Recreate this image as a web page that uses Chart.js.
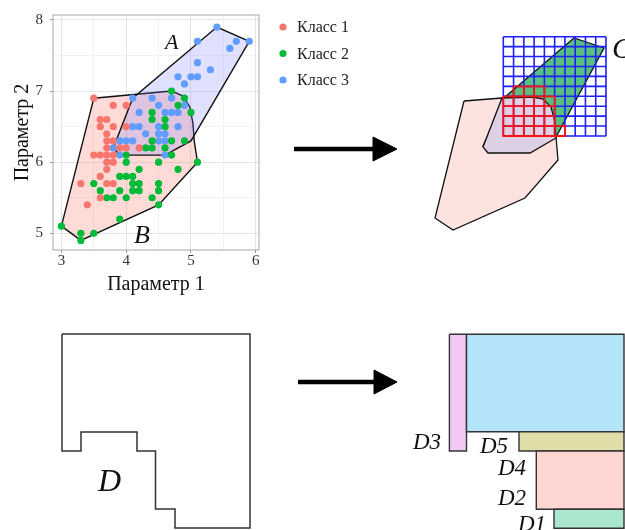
<!DOCTYPE html>
<html>
<head>
<meta charset="utf-8">
<script src="https://cdn.jsdelivr.net/npm/chart.js@4.4.1/dist/chart.umd.min.js"></script>
<style>
body { margin: 0; background: #fff; overflow: hidden; width: 625px; height: 530px; position: relative; }
canvas { position: absolute; left: 0; top: 0; }
#overlay { pointer-events: none; }
</style>
</head>
<body>
<canvas id="scatter" width="265" height="300"></canvas>
<canvas id="overlay" width="625" height="530"></canvas>
<script>
// scatter data (Параметр 1, Параметр 2)
const classNames = ['Класс 1', 'Класс 2', 'Класс 3'];
const classColors = ['#F8766D', '#00BA38', '#619CFF'];

const class1 = [[3.5,6.9],[3.8,6.8],[4.0,6.8],[3.6,6.6],[3.7,6.6],[3.6,6.5],[3.8,6.5],[4.0,6.5],[3.7,6.4],
  [3.7,6.3],[3.8,6.3],[3.7,6.2],[3.9,6.2],[4.0,6.2],[4.2,6.2],[3.5,6.1],[3.6,6.1],[3.7,6.1],[3.8,6.1],
  [3.7,6.0],[3.8,6.0],[3.7,5.9],[3.6,5.8],[3.3,5.7],[3.7,5.7],[3.8,5.7],[3.6,5.5],[3.4,5.4]];
const class2 = [[4.7,7.0],[4.9,6.9],[4.8,6.8],[5.0,6.7],[4.4,6.7],[4.4,6.6],[4.6,6.6],[4.6,6.5],[4.4,6.3],
  [4.7,6.3],[4.9,6.3],[4.3,6.2],[4.4,6.2],[4.6,6.2],[4.0,6.1],[4.7,6.1],[4.0,6.0],[4.5,6.0],[5.1,6.0],
  [4.2,5.9],[4.8,5.9],[3.9,5.8],[4.0,5.8],[4.1,5.8],[3.5,5.7],[4.1,5.7],[4.2,5.7],[4.5,5.7],[3.6,5.6],
  [3.9,5.6],[4.1,5.6],[4.2,5.6],[4.5,5.6],[3.7,5.5],[3.8,5.5],[4.0,5.5],[4.4,5.5],[4.5,5.4],[3.9,5.2],
  [3.0,5.1],[3.3,5.0],[3.5,5.0],[3.3,4.9]];
const class3 = [[5.4,7.9],[5.1,7.7],[5.7,7.7],[5.9,7.7],[5.6,7.6],[5.1,7.4],[5.3,7.3],[4.8,7.2],[5.0,7.2],
  [5.1,7.2],[4.9,7.1],[4.1,6.9],[4.4,6.9],[4.7,6.9],[4.5,6.8],[4.9,6.8],[4.2,6.7],[4.6,6.7],[4.7,6.7],
  [4.8,6.7],[4.1,6.5],[4.2,6.5],[4.5,6.5],[4.8,6.5],[4.3,6.4],[4.5,6.4],[4.6,6.4],[3.9,6.3],[4.0,6.3],
  [4.1,6.3],[4.5,6.3],[4.6,6.3],[3.8,6.2],[3.9,6.1],[4.6,6.1]];
const classes = [class1, class2, class3];

// hulls
const hullA = [[3.8,6.2],[4.1,6.9],[5.4,7.9],[5.9,7.7],[5.0,6.3],[4.6,6.1],[3.9,6.1]];
const hullB = [[3.0,5.1],[3.5,6.9],[4.7,7.0],[4.88,6.93],[4.98,6.78],[5.03,6.55],[5.05,6.3],[5.1,6.0],[4.5,5.4],[3.3,4.9]];

const xTicks = [3, 3.5, 4, 4.5, 5, 5.5, 6];
const yTicks = [5, 5.5, 6, 6.5, 7, 7.5, 8];

// diagram pieces (page pixels)
const pinkShape = [[464,101],[502,98],[556,137],[558,160],[525,198],[453,230],[435,218]];
const greenShape = [[505,97],[574,38],[604,48],[556,137],[530,151],[490,151],[483,146]];
const lilacShape = [[502,98],[533,97],[543,99],[551,107],[554.5,120],[556,138],[530,153],[488,153],[483,147]];
const blueGrid = { x0: 503.3, y0: 36.7, cell: [10.27, 9.93], cols: 10, rows: 10 };
const redCells = [[5,1,3],[6,0,4],[7,0,4],[8,0,4],[9,0,5]]; // row, first col, last col
const arrowTop = { shaft: [[294,149],[374,149]], head: [[373,137],[397,149],[373,161]] };
const arrowBottom = { shaft: [[298,382],[375,382]], head: [[374,370],[397,382],[374,394]] };
const shapeD = [[62,334],[250,334],[250,528],[175,528],[175,509],[155.5,509],[155.5,451],[137,451],
  [137,432],[81,432],[81,451],[62,451]];
const parts = [
  { box: [449.4,334.3,466.5,451], color: '#f4c8f5' },
  { box: [466.5,334.3,624,431.7], color: '#b3e4fa' },
  { box: [519,431.7,624,451], color: '#e0dda9' },
  { box: [536.3,451,624,509.3], color: '#fdd5d1' },
  { box: [554,509.3,624,528.3], color: '#abe6cf' }
];

const notes = [
  { t: 'A', x: 165, y: 49, size: 22 },
  { t: 'B', x: 134, y: 243, size: 26 },
  { t: 'C', x: 612, y: 58, size: 30 },
  { t: 'D', x: 98, y: 491, size: 32 },
  { t: 'D3', x: 413, y: 449, size: 23 },
  { t: 'D5', x: 480, y: 453, size: 23 },
  { t: 'D4', x: 498, y: 475, size: 23 },
  { t: 'D2', x: 498, y: 505, size: 23 },
  { t: 'D1', x: 518, y: 531, size: 23 }
];

const serif = '"Liberation Serif", "DejaVu Serif", serif';
const toXY = a => a.map(p => ({ x: p[0], y: p[1] }));
const closed = a => toXY(a.concat([a[0]]));

// ---------- scatter plot ----------
const framePlugin = {
  id: 'frame',
  afterDatasetsDraw(chart) {
    const { ctx, chartArea: a } = chart;
    ctx.save();
    ctx.strokeStyle = '#a8a8a8';
    ctx.lineWidth = 1;
    ctx.strokeRect(a.left, a.top, a.right - a.left, a.bottom - a.top);
    ctx.restore();
  }
};

const isMajor = v => Number.isInteger(v);
function axis(ticks, min, max, title, tickPad, titlePad) {
  return {
    type: 'linear', min: min, max: max,
    afterBuildTicks: s => { s.ticks = ticks.map(v => ({ value: v })); },
    border: { display: false },
    grid: {
      color: c => isMajor(c.tick.value) ? '#e4e4e4' : '#f2f2f2',
      tickColor: c => isMajor(c.tick.value) ? '#999' : 'rgba(0,0,0,0)',
      tickLength: 3
    },
    ticks: {
      callback: v => isMajor(v) ? v : '',
      font: { family: serif, size: 15, lineHeight: 1 }, color: '#333',
      padding: tickPad, maxRotation: 0, autoSkip: false
    },
    title: { display: true, text: title, font: { family: serif, size: 20 }, color: '#111', padding: titlePad }
  };
}

const xAxis = axis(xTicks, 2.87, 6.05, 'Параметр 1', 1, { top: 0, bottom: 3 });
xAxis.afterFit = s => { s.height = 50; };
const yAxis = axis(yTicks, 4.765, 8.07, 'Параметр 2', 7, { top: 11, bottom: 0 });
yAxis.afterFit = s => { s.width = 53; };

const scatterSets = classes.map((c, i) => ({
  label: classNames[i],
  data: toXY(c),
  backgroundColor: classColors[i],
  borderWidth: 0,
  pointRadius: 3.6,
  order: 0
}));
scatterSets.push({
  type: 'line', data: closed(hullA), fill: 'shape',
  backgroundColor: 'rgba(110,120,255,0.22)', borderColor: '#111', borderWidth: 1.4,
  pointRadius: 0, tension: 0, order: 1
});
scatterSets.push({
  type: 'line', data: closed(hullB), fill: 'shape',
  backgroundColor: 'rgba(255,110,100,0.25)', borderColor: '#111', borderWidth: 1.4,
  pointRadius: 0, tension: 0, order: 2
});

new Chart(document.getElementById('scatter'), {
  type: 'scatter',
  data: { datasets: scatterSets },
  options: {
    animation: false, responsive: false, devicePixelRatio: 1,
    layout: { padding: { top: 15, right: 6, left: 0, bottom: 0 } },
    plugins: { legend: { display: false }, tooltip: { enabled: false } },
    scales: { x: xAxis, y: yAxis }
  },
  plugins: [framePlugin]
});

// ---------- diagrams ----------
function gridLines(g) {
  const pts = [];
  const w = g.cell[0] * g.cols, h = g.cell[1] * g.rows;
  for (let i = 0; i <= g.cols; i++) {
    const x = g.x0 + i * g.cell[0];
    pts.push({ x: x, y: g.y0 }, { x: x, y: g.y0 + h }, { x: null, y: null });
  }
  for (let j = 0; j <= g.rows; j++) {
    const y = g.y0 + j * g.cell[1];
    pts.push({ x: g.x0, y: y }, { x: g.x0 + w, y: y }, { x: null, y: null });
  }
  return pts;
}
function cellLines(g, cells) {
  const pts = [];
  cells.forEach(([r, c0, c1]) => {
    for (let c = c0; c <= c1; c++) {
      const x = g.x0 + c * g.cell[0], y = g.y0 + r * g.cell[1];
      const sq = [[x, y], [x + g.cell[0], y], [x + g.cell[0], y + g.cell[1]], [x, y + g.cell[1]], [x, y]];
      sq.forEach(p => pts.push({ x: p[0], y: p[1] }));
      pts.push({ x: null, y: null });
    }
  });
  return pts;
}
const rect = b => [[b[0], b[1]], [b[2], b[1]], [b[2], b[3]], [b[0], b[3]]];

const poly = (pts, fillColor, line, width) => ({
  type: 'line', data: closed(pts), fill: fillColor ? 'shape' : false,
  backgroundColor: fillColor || 'transparent', borderColor: line, borderWidth: width,
  pointRadius: 0, tension: 0, borderJoinStyle: 'miter'
});
const path = (pts, line, width) => ({
  type: 'line', data: pts, fill: false, borderColor: line, borderWidth: width,
  pointRadius: 0, tension: 0, spanGaps: false, borderCapStyle: 'butt'
});

const diagramSets = [
  poly(pinkShape, '#fde3e0', '#111', 1.3),
  poly(greenShape, '#58bf7f', '#111', 1.3),
  poly(lilacShape, '#ddd0e4', '#111', 1.3),
  path(gridLines(blueGrid), '#1f1fff', 1.6),
  path(cellLines(blueGrid, redCells), '#ff1010', 1.8),
  path(toXY(arrowTop.shaft), '#000', 4.5),
  poly(arrowTop.head, '#000', '#000', 1),
  path(toXY(arrowBottom.shaft), '#000', 4.5),
  poly(arrowBottom.head, '#000', '#000', 1),
  poly(shapeD, null, '#333', 1.5)
];
parts.forEach(p => diagramSets.push(poly(rect(p.box), p.color, '#333', 1.4)));
diagramSets.forEach((d, i) => { d.order = -i; });

const notesPlugin = {
  id: 'notes',
  afterDraw(chart) {
    const ctx = chart.ctx;
    ctx.save();
    ctx.fillStyle = '#111';
    ctx.textBaseline = 'alphabetic';
    ctx.textAlign = 'left';
    notes.forEach(n => {
      ctx.font = 'italic ' + n.size + 'px ' + serif;
      ctx.fillText(n.t, n.x, n.y);
    });
    // legend
    ctx.font = '16px ' + serif;
    ctx.textBaseline = 'middle';
    classNames.forEach((name, i) => {
      const y = 27 + i * 26.5;
      ctx.fillStyle = classColors[i];
      ctx.beginPath();
      ctx.arc(283, y, 3.6, 0, Math.PI * 2);
      ctx.fill();
      ctx.fillStyle = '#222';
      ctx.fillText(name, 297, y + 1);
    });
    ctx.restore();
  }
};

new Chart(document.getElementById('overlay'), {
  type: 'scatter',
  data: { datasets: diagramSets },
  options: {
    animation: false, responsive: false, devicePixelRatio: 1,
    layout: { padding: 0 },
    plugins: { legend: { display: false }, tooltip: { enabled: false } },
    scales: {
      x: { type: 'linear', min: 0, max: 625, display: false },
      y: { type: 'linear', min: 0, max: 530, reverse: true, display: false }
    }
  },
  plugins: [notesPlugin]
});
</script>
</body>
</html>
